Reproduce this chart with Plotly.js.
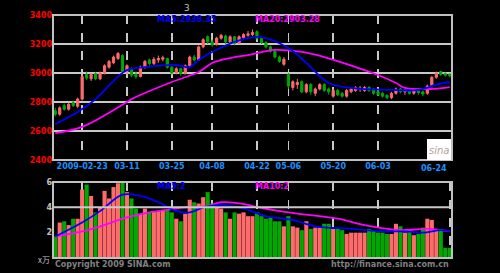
<!DOCTYPE html>
<html><head><meta charset="utf-8">
<script src="https://cdn.plot.ly/plotly-3.0.1.min.js"></script>
<style>html,body{margin:0;padding:0;background:#000;}#chart{width:500px;height:273px;}</style>
</head><body><div id="chart"></div>
<script>
// ---- data ----
var openP  = [2740,2715,2775,2750,2795,2770,2820,2990,2960,2995,2960,3000,3040,3070,3100,3120,3010,3030,2990,2975,3040,3090,3065,3090,3095,3100,3040,3000,3030,2995,3050,3110,3090,3180,3250,3215,3195,3240,3255,3215,3250,3205,3245,3260,3265,3285,3240,3210,3180,3150,3110,3060,2990,2900,2920,2940,2870,2920,2860,2890,2920,2890,2840,2880,2860,2840,2870,2880,2890,2880,2900,2890,2870,2860,2845,2830,2860,2890,2870,2880,2860,2880,2870,2860,2910,2970,3010,2995,2990];
var highP  = [2760,2770,2790,2795,2810,2830,2990,3010,3000,3005,3010,3060,3090,3120,3145,3130,3060,3040,3010,3050,3090,3100,3110,3120,3120,3105,3050,3040,3035,3060,3120,3125,3190,3240,3260,3230,3250,3270,3265,3260,3255,3260,3275,3290,3300,3295,3250,3220,3190,3160,3120,3110,3000,2950,2960,2950,2930,2930,2900,2930,2930,2900,2890,2890,2870,2890,2900,2910,2910,2910,2910,2895,2880,2870,2855,2870,2900,2900,2890,2890,2890,2890,2880,2920,2980,3010,3015,3005,3000];
var lowP   = [2700,2705,2740,2740,2765,2760,2810,2950,2945,2950,2950,2990,3030,3060,3090,2990,2990,2970,2960,2970,3030,3050,3055,3070,3080,3030,2990,2990,2980,2990,3045,3080,3085,3170,3200,3180,3190,3230,3200,3205,3190,3200,3235,3250,3255,3230,3200,3170,3140,3100,3070,3050,2890,2880,2890,2860,2860,2850,2840,2880,2870,2850,2830,2840,2830,2830,2860,2870,2870,2870,2870,2850,2840,2830,2820,2820,2850,2860,2850,2850,2850,2850,2840,2850,2900,2960,2980,2975,2970];
var closeP = [2715,2760,2750,2785,2775,2820,2975,2965,2990,2960,3000,3050,3080,3110,3135,3010,3050,2985,2975,3040,3080,3065,3095,3100,3105,3040,3000,3030,2995,3050,3110,3090,3180,3230,3215,3195,3240,3260,3215,3250,3205,3250,3265,3270,3280,3240,3210,3180,3150,3110,3080,3095,2910,2940,2935,2870,2920,2870,2890,2920,2880,2870,2880,2850,2840,2880,2890,2900,2895,2900,2880,2860,2850,2840,2830,2860,2890,2870,2880,2860,2880,2865,2855,2910,2970,3000,2990,2985,2980];
var volume = [1.7,2.8,2.9,2.6,3.1,3.1,5.4,5.8,4.9,3.6,4.0,5.3,4.7,5.6,5.9,6.0,5.2,4.7,3.9,3.5,3.9,3.6,3.7,3.7,3.8,3.8,3.6,3.1,2.9,3.5,4.6,4.4,4.3,4.8,5.2,4.3,4.0,3.9,3.6,3.1,3.6,3.5,3.6,3.3,3.3,3.6,3.3,3.1,3.2,2.9,2.9,2.5,3.3,2.5,2.4,2.2,2.9,2.3,2.4,2.4,2.7,2.7,2.3,2.3,2.2,1.9,2.0,2.0,2.0,2.0,2.3,2.2,2.0,2.0,1.9,1.9,2.7,2.5,2.0,2.2,1.8,1.9,2.4,3.1,3.0,2.2,2.3,0.8,0.8];

var ma5Day   = [0,5,9,14,16,20,27,30,32,36,40,43,46,52,56,61,66,75,81,85,88];
var ma5Val   = [2648,2731,2820,2975,3020,3040,3055,3041,3090,3160,3214,3241,3248,3172,3070,2931,2897,2883,2883,2920,2938];
var ma20Day  = [0,6,16,17,26,32,35,39,43,49,55,60,67,72,76,78,84,88];
var ma20Val  = [2586,2628,2800,2820,2938,3007,3069,3103,3124,3159,3145,3110,3041,2986,2931,2897,2890,2903];

var vma5Day  = [0,6,10,15,19,23,27,30,33,37,41,43,47,53,58,66,73,78,82,86,88];
var vma5Val  = [1.7,2.8,3.7,5.0,4.9,4.4,3.7,3.6,4.0,4.2,4.0,3.8,3.3,3.0,2.5,2.3,2.1,2.1,2.0,2.2,2.1];
var vma10Day = [0,6,10,16,21,25,29,34,37,43,44,52,63,69,77,83,88];
var vma10Val = [1.7,2.1,2.5,3.2,3.6,3.8,4.0,4.1,4.4,4.2,4.1,3.6,3.1,2.6,2.2,2.3,2.1];

var tickIdx    = [6,16,26,35,45,52,62,72,88];
var tickLabels = ["2009-02-23","03-11","03-25","04-08","04-22","05-06","05-20","06-03","06-24"];
var priceTicks = [2400,2600,2800,3000,3200,3400];
var volTicks   = [2,4,6];

var legendMain = ["MA5:2938.35","MA20:2903.28"];
var legendVol  = ["MA5:2","MA10:2"];
var titleText  = "3";

// ---- build ----
var days = closeP.map(function(_, i){ return i; });
var UP = "#ff6a6a", DN = "#00a800";
var volColors = closeP.map(function(c, i){ return c >= openP[i] ? UP : DN; });

var traces = [
  {type:"candlestick", x:days, open:openP, high:highP, low:lowP, close:closeP,
   xaxis:"x", yaxis:"y", whiskerwidth:0,
   increasing:{line:{color:UP,width:1}, fillcolor:UP},
   decreasing:{line:{color:DN,width:1}, fillcolor:DN}, hoverinfo:"none"},
  {type:"scatter", mode:"lines", x:ma20Day, y:ma20Val, xaxis:"x", yaxis:"y",
   line:{color:"#ff00ff", width:1.8, shape:"spline"}},
  {type:"scatter", mode:"lines", x:ma5Day, y:ma5Val, xaxis:"x", yaxis:"y",
   line:{color:"#0000ff", width:1.8, shape:"spline"}},
  {type:"bar", x:days, y:volume, xaxis:"x2", yaxis:"y2", width:0.92,
   marker:{color:volColors, line:{width:0}}},
  {type:"scatter", mode:"lines", x:vma10Day, y:vma10Val, xaxis:"x2", yaxis:"y2",
   line:{color:"#ff00ff", width:1.8, shape:"spline"}},
  {type:"scatter", mode:"lines", x:vma5Day, y:vma5Val, xaxis:"x2", yaxis:"y2",
   line:{color:"#0000ff", width:1.8, shape:"spline"}}
];

var H = 273, T = 15, B = 15, PH = H - T - B;
function fy(py){ return (H - B - py) / PH; }
function fx(px){ return (px - 53) / 399; }

var fontTick = {family:"DejaVu Sans", size:8, weight:"bold"};
var lastI = tickIdx.length - 1;

function note(px, py, text, font, xanchor){
  return {xref:"paper", yref:"paper", x:fx(px), y:fy(py), text:text, showarrow:false,
          xanchor:xanchor || "center", yanchor:"middle", font:font};
}

var layout = {
  width:500, height:273, showlegend:false,
  paper_bgcolor:"#000", plot_bgcolor:"#000",
  margin:{l:53, r:48, t:T, b:B},
  xaxis:{domain:[0,1], range:[-0.5,88.5], anchor:"y", rangeslider:{visible:false},
    tickmode:"array", tickvals:tickIdx.slice(0,lastI), ticktext:tickLabels.slice(0,lastI),
    ticks:"", tickfont:Object.assign({color:"#1e90ff"}, fontTick),
    showgrid:true, gridcolor:"#c8c8c8", griddash:"dash", gridwidth:1.5,
    zeroline:false, showline:false, fixedrange:true},
  yaxis:{domain:[fy(160),1], range:[2400,3400], tickvals:priceTicks,
    ticks:"", tickfont:Object.assign({color:"#ff0000"}, fontTick),
    showgrid:true, gridcolor:"#c8c8c8", gridwidth:2, zeroline:false, showline:false},
  xaxis2:{domain:[0,1], range:[-0.5,88.5], anchor:"y2", tickvals:tickIdx,
    showticklabels:false, ticks:"", showgrid:true, gridcolor:"#c8c8c8", griddash:"dash", gridwidth:1.5,
    zeroline:false, showline:false},
  yaxis2:{domain:[0,fy(182)], range:[0,6], tickvals:volTicks, ticks:"",
    tickfont:Object.assign({color:"#c0c0c0"}, fontTick),
    showgrid:false, zeroline:false, showline:false},
  shapes:[
    {type:"rect", xref:"paper", yref:"paper", x0:0, x1:1, y0:fy(160), y1:1,
     line:{color:"#c0c0c0", width:2}},
    {type:"rect", xref:"paper", yref:"paper", x0:0, x1:1, y0:0, y1:fy(182),
     line:{color:"#c0c0c0", width:2}},
    {type:"line", xref:"paper", yref:"y2", x0:0, x1:1, y0:4, y1:4, line:{color:"#c8c8c8", width:2}},
    {type:"rect", xref:"paper", yref:"paper", x0:fx(427), x1:fx(451), y0:fy(160), y1:fy(139),
     fillcolor:"#ffffff", line:{width:0}}
  ],
  annotations:[
    note(187, 8, titleText, {family:"DejaVu Sans", size:9, color:"#c0c0c0"}),
    note(155, 19, legendMain[0], {family:"DejaVu Sans", size:8, weight:"bold", color:"#0000ff"}, "left"),
    note(253, 19, legendMain[1], {family:"DejaVu Sans", size:8, weight:"bold", color:"#ff00ff"}, "left"),
    note(155, 186, legendVol[0], {family:"DejaVu Sans", size:8, weight:"bold", color:"#0000ff"}, "left"),
    note(253, 186, legendVol[1], {family:"DejaVu Sans", size:8, weight:"bold", color:"#ff00ff"}, "left"),
    note(449, 168, tickLabels[lastI], Object.assign({color:"#1e90ff"}, fontTick), "right"),
    note(439, 150, "<i>sina</i>", {family:"DejaVu Sans", size:10, color:"#b0a0a0"}),
    note(53, 264, "Copyright 2009 SINA.com", {family:"DejaVu Sans", size:8, weight:"bold", color:"#808080"}, "left"),
    note(451, 264, "http://finance.sina.com.cn", {family:"DejaVu Sans", size:8, weight:"bold", color:"#808080"}, "right"),
    note(44, 259, "x万", {family:"Noto Sans CJK SC", size:8, color:"#c0c0c0"})
  ]
};

Plotly.newPlot("chart", traces, layout, {staticPlot:true, displayModeBar:false});
</script></body></html>
